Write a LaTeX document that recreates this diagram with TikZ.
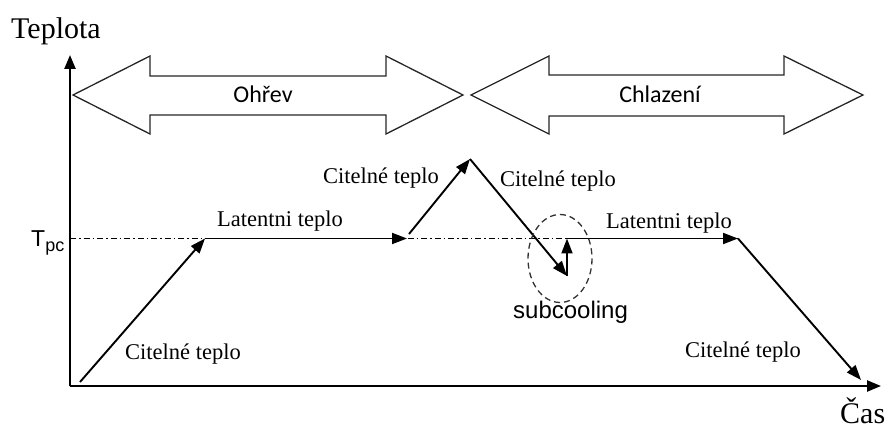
\documentclass[tikz,border=0pt]{standalone}
\usepackage{fontspec}
\setmainfont{Liberation Serif}
\newfontfamily\calfont{Carlito}
\newfontfamily\arialfont{Liberation Sans}
\usetikzlibrary{arrows.meta}
\begin{document}
\begin{tikzpicture}[x=1pt,y=-1pt,
  lbl/.style={anchor=base west,inner sep=0pt,font=\fontsize{22.5}{24}\selectfont},
  axislbl/.style={anchor=base west,inner sep=0pt,font=\fontsize{30}{32}\selectfont},
  phase/.style={anchor=base,inner sep=0pt,font=\calfont\fontsize{24}{26}\selectfont},
  bigarrow/.style={draw=black!85,line width=1.3pt,fill=white,line join=miter},
  axis/.style={line width=2.4pt,-{Triangle[length=14pt,width=11pt]}},
  seg/.style={line width=1.9pt,-{Triangle[length=15pt,width=11pt]}},
  refline/.style={line width=0.9pt,dash pattern=on 6pt off 3pt on 1.5pt off 3pt},
  ring/.style={line width=1.3pt,dash pattern=on 6pt off 4pt,draw=black!80}]
\useasboundingbox (0,0) rectangle (888,430);
% phase arrows
\draw[bigarrow] (73,95) -- (150,56) -- (150,76) -- (386,76) -- (386,56) -- (463,95)
  -- (386,134) -- (386,115) -- (150,115) -- (150,134) -- cycle;
\node[phase] (ohrev) at (263,102.5) {Ohřev};
\draw[bigarrow] (471,95) -- (549,56) -- (549,75) -- (784,75) -- (784,56) -- (863,95)
  -- (784,134) -- (784,116) -- (549,116) -- (549,134) -- cycle;
\node[phase] (chlazeni) at (660,102.5) {Chlazení};
% axes
\coordinate (o) at (70,386);
\coordinate (ytop) at (70,55);
\coordinate (xend) at (881,386);
\draw[refline] (70,238.5) -- (740,238.5);
\draw[axis] (o) -- (ytop);
\draw[axis] (o) -- (xend);
\node[axislbl] (teplota) at (11,39) {Teplota};
\node[axislbl] (cas) at (840,423) {Čas};
\node[anchor=base west,inner sep=0pt,font=\arialfont\fontsize{23}{24}\selectfont] (tpc) at (31,247)
  {T\raisebox{-5pt}{\fontsize{18}{18}\selectfont pc}};
% curve
\coordinate (p0) at (80,382);
\coordinate (p1) at (205,238.5);
\coordinate (p2) at (407,238.5);
\coordinate (p3) at (409,234);
\coordinate (p4) at (470,159);
\coordinate (p5) at (567,276);
\coordinate (p6) at (567,238.5);
\coordinate (p7) at (738,238.5);
\coordinate (p8) at (861,380);
\draw[seg] (p0) -- (p1);
\draw[seg] (p1) -- (p2);
\draw[seg] (p3) -- (p4);
\draw[seg] (p4) -- (p5);
\draw[seg] (p5) -- (p6);
\draw[seg] (p6) -- (p7);
\draw[seg] (p7) -- (p8);
\draw[ring] (560,258.5) ellipse [x radius=32,y radius=44];
% labels
\node[lbl] (c1) at (125,359) {Citelné teplo};
\node[lbl] (l1) at (217,227) {Latentni teplo};
\node[lbl] (c2) at (323,184) {Citelné teplo};
\node[lbl] (c3) at (500,187) {Citelné teplo};
\node[lbl] (l2) at (606,229) {Latentni teplo};
\node[lbl] (c4) at (685,357) {Citelné teplo};
\node[anchor=base west,inner sep=0pt,font=\arialfont\fontsize{24}{26}\selectfont] (sub) at (513,318) {subcooling};
\end{tikzpicture}
\end{document}
